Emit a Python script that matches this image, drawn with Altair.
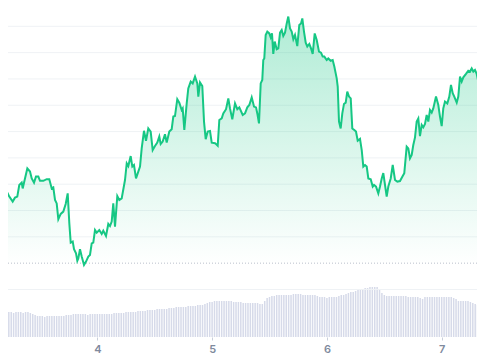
import altair as alt
import pandas as pd

# Price series: hours since day 3 00:00, price
hours = [3.66, 4.22, 4.70, 5.18, 5.60, 6.31, 6.79, 7.27, 7.69, 8.19, 8.40, 8.88, 9.37, 9.93, 10.29, 10.77,
         11.18, 11.67, 12.02, 12.71, 13.42, 13.96, 14.47, 14.80, 15.16, 15.51, 15.85, 16.35, 16.89, 17.39,
         17.81, 18.15, 18.44, 18.86, 19.13, 19.55, 19.82, 20.03, 20.38, 20.74, 21.22, 21.64, 22.12, 22.47,
         22.83, 23.16, 23.52, 23.87, 24.42, 24.92, 25.25, 25.82, 26.30, 26.65, 27.01, 27.34, 27.70, 28.18,
         28.60, 29.10, 29.79, 30.15, 30.48, 30.98, 31.32, 31.67, 32.09, 32.57, 32.93, 33.28, 33.76, 34.18,
         34.66, 35.16, 35.58, 36.06, 36.54, 36.96, 37.25, 37.67, 38.15, 38.51, 39.05, 39.55, 39.89, 40.24,
         40.72, 41.14, 41.64, 41.85, 42.19, 42.69, 43.02, 43.53, 43.94, 44.43, 44.91, 45.12, 45.47, 45.95,
         46.31, 46.66, 47.08, 47.56, 47.92, 48.61, 49.17, 49.51, 50.01, 50.34, 50.91, 51.39, 51.74, 52.22,
         52.79, 53.27, 53.69, 54.40, 54.88, 55.36, 55.78, 56.28, 56.76, 57.18, 57.45, 57.80, 58.16, 58.49,
         58.70, 58.91, 59.20, 59.54, 59.96, 60.25, 60.52, 60.79, 61.09, 61.51, 61.84, 62.20, 62.55, 62.88,
         63.24, 63.60, 63.93, 64.29, 64.64, 64.98, 65.33, 65.81, 66.23, 66.59, 66.86, 67.21, 67.57, 67.90,
         68.32, 68.68, 69.03, 69.45, 69.87, 70.35, 70.77, 71.12, 71.46, 71.96, 72.29, 72.79, 73.21, 73.55,
         74.05, 74.26, 74.53, 74.88, 75.22, 75.57, 75.93, 76.26, 76.62, 76.98, 77.31, 77.73, 78.08, 78.44,
         78.92, 79.28, 79.61, 79.97, 80.32, 80.66, 81.16, 81.58, 81.85, 82.27, 82.75, 83.10, 83.46, 83.79,
         84.15, 84.50, 84.84, 85.34, 85.76, 86.24, 86.72, 87.28, 87.85, 88.18, 88.68, 89.02, 89.37, 89.73,
         90.06, 90.42, 90.77, 91.11, 91.46, 91.82, 92.15, 92.51, 92.86, 93.20, 93.55, 93.91, 94.24, 94.81,
         95.29, 95.64, 96.00, 96.33, 96.69, 97.17, 97.59, 97.94, 98.30, 98.63, 99.14, 99.47, 99.83, 100.18,
         100.52, 101.08, 101.56, 101.92, 102.27, 102.61, 102.96, 103.32, 103.65, 104.01, 104.36, 104.84, 105.26]

prices = [2.131, 2.110, 2.065, 2.068, 2.053, 2.034, 2.049, 2.053, 2.097, 2.106, 2.084, 2.122, 2.160, 2.148,
          2.122, 2.106, 2.129, 2.129, 2.113, 2.113, 2.119, 2.119, 2.084, 2.088, 2.040, 2.027, 1.967, 1.987,
          1.996, 2.025, 2.065, 1.951, 1.878, 1.882, 1.853, 1.837, 1.809, 1.818, 1.853, 1.825, 1.793, 1.806,
          1.825, 1.831, 1.875, 1.878, 1.926, 1.916, 1.926, 1.911, 1.923, 1.903, 1.949, 1.941, 1.958, 2.027,
          1.939, 2.055, 2.040, 2.046, 2.116, 2.179, 2.169, 2.207, 2.167, 2.173, 2.122, 2.148, 2.167, 2.236,
          2.303, 2.265, 2.312, 2.300, 2.230, 2.245, 2.258, 2.281, 2.253, 2.262, 2.290, 2.258, 2.300, 2.309,
          2.357, 2.359, 2.423, 2.410, 2.382, 2.388, 2.306, 2.407, 2.464, 2.490, 2.483, 2.509, 2.483, 2.433,
          2.487, 2.473, 2.338, 2.271, 2.300, 2.302, 2.258, 2.256, 2.246, 2.344, 2.350, 2.369, 2.385, 2.426,
          2.388, 2.347, 2.407, 2.385, 2.392, 2.363, 2.369, 2.392, 2.401, 2.430, 2.395, 2.392, 2.369, 2.331,
          2.483, 2.496, 2.572, 2.578, 2.667, 2.680, 2.673, 2.658, 2.673, 2.595, 2.642, 2.613, 2.616, 2.676,
          2.686, 2.663, 2.676, 2.711, 2.737, 2.692, 2.680, 2.651, 2.667, 2.625, 2.705, 2.711, 2.730, 2.680,
          2.638, 2.623, 2.633, 2.616, 2.595, 2.673, 2.648, 2.604, 2.600, 2.585, 2.585, 2.572, 2.578, 2.569,
          2.572, 2.547, 2.502, 2.471, 2.338, 2.312, 2.369, 2.405, 2.410, 2.452, 2.433, 2.426, 2.312, 2.306,
          2.300, 2.265, 2.272, 2.230, 2.167, 2.173, 2.167, 2.122, 2.119, 2.091, 2.097, 2.091, 2.065, 2.091,
          2.122, 2.142, 2.097, 2.053, 2.091, 2.122, 2.173, 2.116, 2.110, 2.112, 2.131, 2.142, 2.243, 2.236,
          2.198, 2.211, 2.249, 2.278, 2.338, 2.350, 2.283, 2.325, 2.316, 2.329, 2.363, 2.338, 2.382, 2.372,
          2.388, 2.433, 2.401, 2.357, 2.321, 2.388, 2.414, 2.407, 2.433, 2.477, 2.446, 2.433, 2.410, 2.433,
          2.509, 2.490, 2.506, 2.519, 2.531, 2.528, 2.540, 2.528, 2.534, 2.519, 2.490, 2.461, 2.464, 2.458,
          2.458]

# Half-hourly volume (millions)
volumes = [25, 25, 24, 25, 25, 24, 25, 25, 25, 24, 25, 25, 24,
           23, 22, 21, 21, 21, 20, 21, 21, 21, 21, 21, 21, 21, 21, 22,
           22, 22, 23, 23, 23, 23, 23, 23, 22, 23, 23, 23, 23, 23, 23, 23, 23, 23, 23, 24,
           24, 24, 24, 24, 25, 25, 25,
           25, 25, 26, 26, 26, 26, 27, 27, 27, 27, 28, 28,
           28, 28, 28, 29, 29, 29, 30, 30, 30,
           30, 30, 31, 31, 31, 31, 32, 32,
           32, 33, 34, 35,
           35, 36, 36, 36, 36, 36, 36, 36, 36, 35, 35, 35, 35,
           34, 34, 34, 34, 34, 34, 34,
           33, 33, 36,
           39, 40, 41,
           41, 42, 42, 42, 42, 42, 42, 42, 43, 43, 43, 43, 42, 42, 42, 42, 42, 42,
           41, 40, 40, 40, 39, 40, 40, 40, 40,
           41, 42, 42, 43, 44, 45, 45,
           46, 47, 47, 48, 49, 49,
           50, 50, 50, 50, 47,
           44, 42, 41,
           41, 41, 41, 41, 41, 41, 41, 41,
           40, 40, 40, 40, 40, 39, 38, 40, 40,
           40, 40, 40, 40, 40, 40, 40, 40, 40, 40, 39, 38,
           36, 36, 36, 36, 36,
           35, 34, 33, 32, 31, 30, 29]

vol_hours = [4.0 + 0.5 * i for i in range(len(volumes))]

grid_values = [1.7, 1.9, 2.0, 2.1, 2.2, 2.3, 2.4, 2.5, 2.6, 2.7]
baseline = 1.8
day_ticks = [24, 48, 72, 96]

price_df = pd.DataFrame({"hour": hours, "price": prices})
vol_df = pd.DataFrame({"hour": vol_hours, "volume": volumes})
grid_df = pd.DataFrame({"price": grid_values})
base_df = pd.DataFrame({"price": [baseline]})

PLOT_H = 329
x_scale = alt.Scale(domain=[5.33, 103.38], nice=False, zero=False, padding=0)
y_price = alt.Scale(domain=[2.7696 - 0.0038 * PLOT_H, 2.7696], nice=False, zero=False, padding=0)

x_enc = alt.X("hour:Q", scale=x_scale, title=None,
              axis=alt.Axis(values=day_ticks, labelExpr="datum.value / 24 + 3",
                            grid=False, domain=False, tickSize=3, tickColor="#c9cfda",
                            labelColor="#808a9d", labelFontSize=11, labelFontWeight=600,
                            labelFont="Inter", labelPadding=3, labelFlush=False))

vol = alt.Chart(vol_df).mark_bar(width=1.5, color="#d6dae9", clip=True).encode(
    x=x_enc,
    y=alt.Y("volume:Q", scale=alt.Scale(domain=[0, PLOT_H], nice=False, padding=0), axis=None),
)

grid = alt.Chart(grid_df).mark_rule(color="#eff2f5", strokeWidth=1).encode(
    y=alt.Y("price:Q", scale=y_price, axis=None),
)

area = alt.Chart(price_df).mark_area(
    clip=True,
    color=alt.Gradient(
        gradient="linear",
        stops=[alt.GradientStop(color="rgba(22,199,132,0.34)", offset=0),
               alt.GradientStop(color="rgba(22,199,132,0.0)", offset=1)],
        x1=1, x2=1, y1=0, y2=1),
).encode(
    x=alt.X("hour:Q", scale=x_scale),
    y=alt.Y("price:Q", scale=y_price, axis=None),
    y2=alt.datum(baseline),
)

line = alt.Chart(price_df).mark_line(clip=True, color="#16c784", strokeWidth=2).encode(
    x=alt.X("hour:Q", scale=x_scale),
    y=alt.Y("price:Q", scale=y_price, axis=None),
)

rule = alt.Chart(base_df).mark_rule(color="#b9c0cb", strokeDash=[1, 2], strokeWidth=1).encode(
    y=alt.Y("price:Q", scale=y_price, axis=None),
)

price_layer = alt.layer(grid, area, rule, line)

chart = alt.layer(vol, price_layer).resolve_scale(y="independent").properties(
    width=469, height=PLOT_H,
    autosize=alt.AutoSizeParams(type="none"),
    padding={"left": 0, "top": 0, "right": 0, "bottom": 19},
).configure_view(stroke=None)

chart.save("out.html", embed_options={"renderer": "svg", "actions": False})
